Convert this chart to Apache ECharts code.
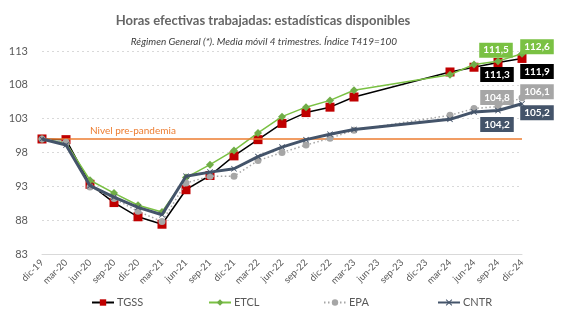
<!DOCTYPE html>
<html>
<head>
<meta charset="utf-8">
<script src="https://cdn.jsdelivr.net/npm/echarts@6/dist/echarts.min.js"></script>
<style>
html,body{margin:0;padding:0;background:#fff;}
#chart{width:569px;height:322px;}
</style>
</head>
<body>
<div id="chart"></div>
<script>
const categories = ['dic-19','mar-20','jun-20','sep-20','dic-20','mar-21','jun-21','sep-21','dic-21','mar-22','jun-22','sep-22','dic-22','mar-23','jun-23','sep-23','dic-23','mar-24','jun-24','sep-24','dic-24'];
const tgss = [100.0, 99.9, 93.3, 90.6, 88.5, 87.4, 92.5, 94.6, 97.5, 99.9, 102.3, 103.9, 104.7, 106.2, null, null, null, 109.9, 110.6, 111.3, 111.9];
const etcl = [100.0, 99.4, 93.9, 92.0, 90.2, 89.2, 94.3, 96.2, 98.3, 100.9, 103.3, 104.7, 105.7, 107.2, null, null, null, 109.5, 111.0, 111.5, 112.6];
const epa  = [100.0, 99.5, 92.9, 91.2, 89.3, 87.8, 93.5, 94.5, 94.5, 96.8, 98.0, 99.1, 100.1, 101.3, null, null, null, 103.5, 104.5, 104.8, 106.1];
const cntr = [100.0, 99.1, 93.1, 91.4, 89.9, 88.8, 94.5, 95.1, 95.6, 97.4, 98.8, 99.9, 100.7, 101.4, null, null, null, 102.9, 104.0, 104.2, 105.2];
const seriesNames = ['TGSS','ETCL','EPA','CNTR'];
const yTicks = [83, 88, 93, 98, 103, 108, 113];
const preLevel = 100;
const preLabel = 'Nivel pre-pandemia';
const titleText = 'Horas efectivas trabajadas: estadísticas disponibles';
const subText = 'Régimen General (*). Media móvil 4 trimestres. Índice T419=100';

const FONT = 'Lato';
const fmt = v => v.toFixed(1).replace('.', ',');

function withLabels(arr, bg, offs) {
  return arr.map((v, i) => {
    if (i === arr.length - 2 || i === arr.length - 1) {
      const off = i === arr.length - 1 ? offs[1] : offs[0];
      return {
        value: v,
        label: {
          show: true, position: 'inside', offset: off,
          formatter: p => fmt(p.value),
          color: '#fff', fontWeight: 'bold', fontSize: 10, fontFamily: FONT,
          backgroundColor: bg, padding: [3, 4, 2, 4]
        }
      };
    }
    return v;
  });
}

const xPath = 'path://M1,0L5,4L9,0L10,1L6,5L10,9L9,10L5,6L1,10L0,9L4,5L0,1Z';

const chart = echarts.init(document.getElementById('chart'));
chart.setOption({
  animation: false,
  textStyle: { fontFamily: FONT },
  title: [
    { text: titleText, left: 258, top: 9, textAlign: 'center',
      textStyle: { fontSize: 13, fontWeight: 'bold', color: '#666666', fontFamily: FONT } },
    { text: subText, left: 259, top: 32, textAlign: 'center',
      textStyle: { fontSize: 10, fontStyle: 'italic', fontWeight: 'normal', color: '#404040', fontFamily: FONT } }
  ],
  legend: [0,1,2,3].map(i => ({
    data: [seriesNames[i]],
    left: [86, 203, 318, 432][i], top: 292,
    itemWidth: 22, itemHeight: 8, itemGap: 2,
    textStyle: { fontSize: 11, color: '#595959', fontFamily: FONT, padding: [0,0,0,-2] }
  })),
  grid: { left: 42, right: 47, top: 51, bottom: 68, containLabel: false },
  xAxis: {
    type: 'category', data: categories, boundaryGap: false,
    axisLine: { show: true, lineStyle: { color: '#d9d9d9', width: 1 } },
    axisTick: { show: false },
    axisLabel: { rotate: 45, fontSize: 9.5, color: '#595959', margin: 7, interval: 0 }
  },
  yAxis: {
    type: 'value', min: yTicks[0], max: yTicks[yTicks.length - 1], interval: 5,
    axisLine: { show: false }, axisTick: { show: false },
    axisLabel: { fontSize: 11, color: '#595959', margin: 14 },
    splitLine: { lineStyle: { color: '#d9d9d9', type: [2, 3], width: 1 } }
  },
  series: [
    {
      name: 'TGSS', type: 'line', data: withLabels(tgss, '#000000', [[-1, 12], [15, 13]]),
      connectNulls: true, symbol: 'rect', symbolSize: 9,
      lineStyle: { color: '#000000', width: 1.5 },
      itemStyle: { color: '#c00000' },
      z: 3,
      markLine: {
        silent: true, symbol: 'none',
        lineStyle: { color: '#ed7d31', width: 1.5, type: 'solid' },
        label: { show: true, position: 'insideStartTop', formatter: preLabel,
                 color: '#ed7d31', fontSize: 10, fontFamily: FONT, distance: [48, 3] },
        data: [{ yAxis: preLevel }]
      }
    },
    {
      name: 'ETCL', type: 'line', data: withLabels(etcl, '#7ac143', [[-2, -11], [15, -7]]),
      connectNulls: true, symbol: 'diamond', symbolSize: 8,
      lineStyle: { color: '#7ac143', width: 1.5 },
      itemStyle: { color: '#70ad47' },
      z: 4
    },
    {
      name: 'EPA', type: 'line', data: withLabels(epa, '#a6a6a6', [[-1, -9], [15, -6]]),
      connectNulls: true, symbol: 'circle', symbolSize: 7,
      lineStyle: { color: '#a6a6a6', width: 1.5, type: [1.5, 2.5] },
      itemStyle: { color: '#a6a6a6' },
      z: 5
    },
    {
      name: 'CNTR', type: 'line', data: withLabels(cntr, '#44546a', [[-1, 14], [15, 9]]),
      connectNulls: true, symbol: xPath, symbolSize: 6,
      lineStyle: { color: '#44546a', width: 3 },
      itemStyle: { color: '#44546a' },
      z: 6
    }
  ]
});
</script>
</body>
</html>
